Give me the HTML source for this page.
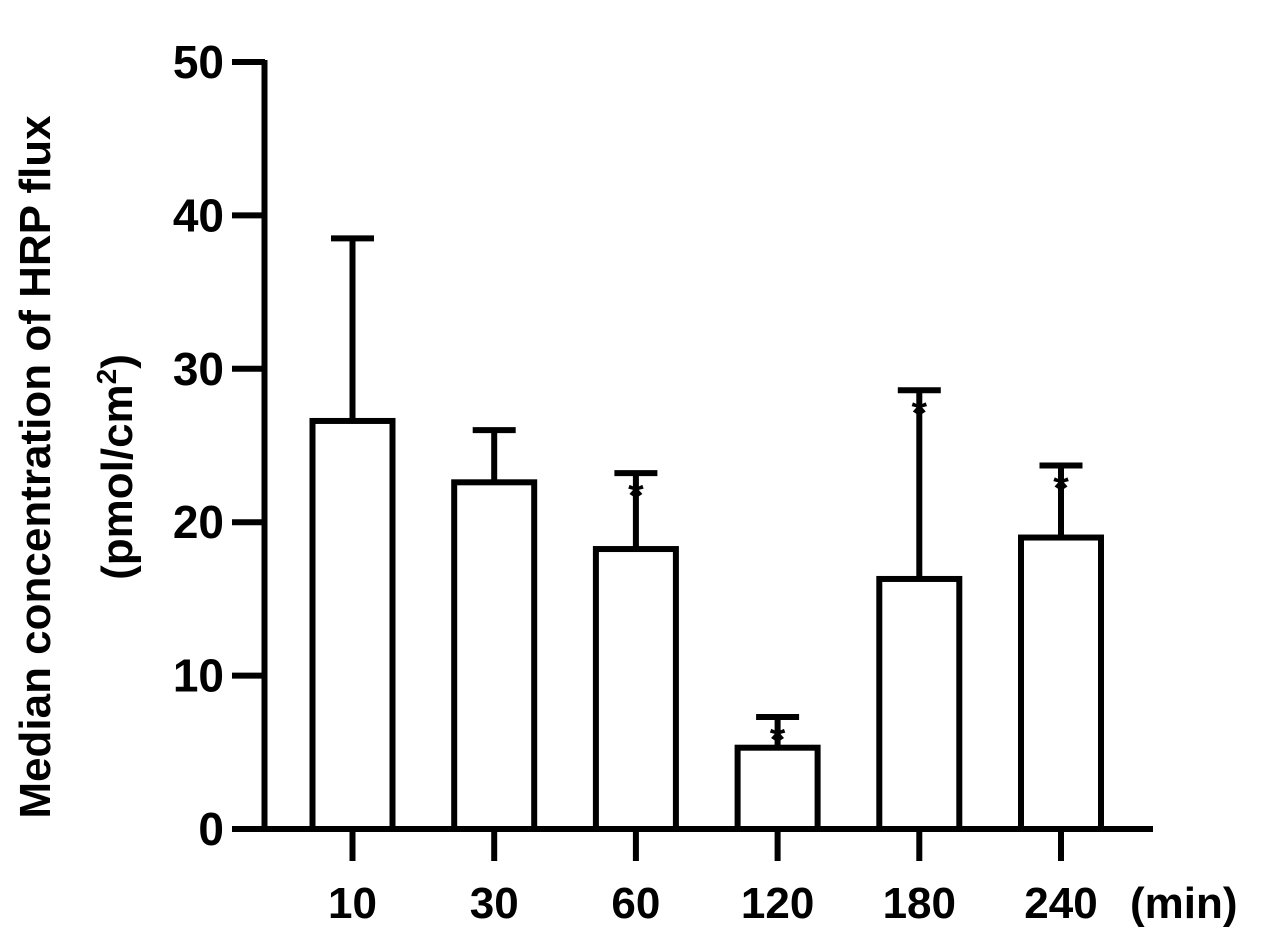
<!DOCTYPE html>
<html><head><meta charset="utf-8"><style>
html,body{margin:0;padding:0;background:#fff}
svg{display:block;font-family:"Liberation Sans",Arial,sans-serif;font-weight:bold}
</style></head><body>
<svg id="chart" width="1271" height="937" viewBox="0 0 1271 937" xmlns="http://www.w3.org/2000/svg">
<g id="axes"></g><g id="bars"></g>
<text transform="translate(50,467) rotate(-90)" text-anchor="middle" font-size="44">Median concentration of HRP flux</text>
<text transform="translate(132,467) rotate(-90)" text-anchor="middle" font-size="44">(pmol/cm<tspan dy="-16" font-size="28">2</tspan><tspan dy="16">)</tspan></text>
<text x="1130" y="918" font-size="44">(min)</text>
</svg>
<script>
const categories = ["10","30","60","120","180","240"];
const medians = [26.6, 22.6, 18.25, 5.3, 16.3, 19.0];
const upperErrors = [38.5, 26.0, 23.2, 7.3, 28.6, 23.7];
const significant = [false, false, true, true, true, true];
const yTicks = [0,10,20,30,40,50];
const NS="http://www.w3.org/2000/svg";
const y0=829, pxPerUnit=15.34;
const yScale=v=>y0-v*pxPerUnit;
const xScale=i=>352.5+i*141.7;
function mk(tag,attrs,parent){const e=document.createElementNS(NS,tag);for(const k in attrs)e.setAttribute(k,attrs[k]);parent.appendChild(e);return e;}
const axes=document.getElementById('axes'), bars=document.getElementById('bars');
let e=mk('line',{x1:264.5,y1:yScale(50)-2,x2:264.5,y2:y0+2.5,stroke:'#000','stroke-width':6},axes);


e=mk('line',{x1:232,y1:y0,x2:1153,y2:y0,stroke:'#000','stroke-width':6},axes);


yTicks.forEach(t=>{
  const y=yScale(t);
  let l=mk('line',{x1:232,y1:y,x2:265,y2:y,stroke:'#000','stroke-width':6},axes);
  
  
  let tx=mk('text',{x:224,y:y+16,'text-anchor':'end','font-size':46},axes);
  tx.textContent=t;
  
  
});
categories.forEach((c,i)=>{
  const cx=xScale(i), top=yScale(medians[i]), et=yScale(upperErrors[i]);
  let l=mk('line',{x1:cx,y1:y0,x2:cx,y2:861,stroke:'#000','stroke-width':6},axes);
  
  
  let tx=mk('text',{x:cx,y:918,'text-anchor':'middle','font-size':44},axes);
  tx.textContent=c;
  
  
  let eb=mk('path',{d:`M${cx},${top} V${et} M${cx-21.5},${et} H${cx+21.5}`,stroke:'#000','stroke-width':6,fill:'none'},bars);
  
  
  let r=mk('rect',{x:cx-40,y:top,width:80,height:y0-top,fill:'#fff',stroke:'#000','stroke-width':6},bars);
  
  
  if(significant[i]){
    let s=mk('text',{x:cx,y:et+36,'text-anchor':'middle','font-size':40},bars);
    s.textContent='*';
    
    
  }
});
</script>
</body></html>
